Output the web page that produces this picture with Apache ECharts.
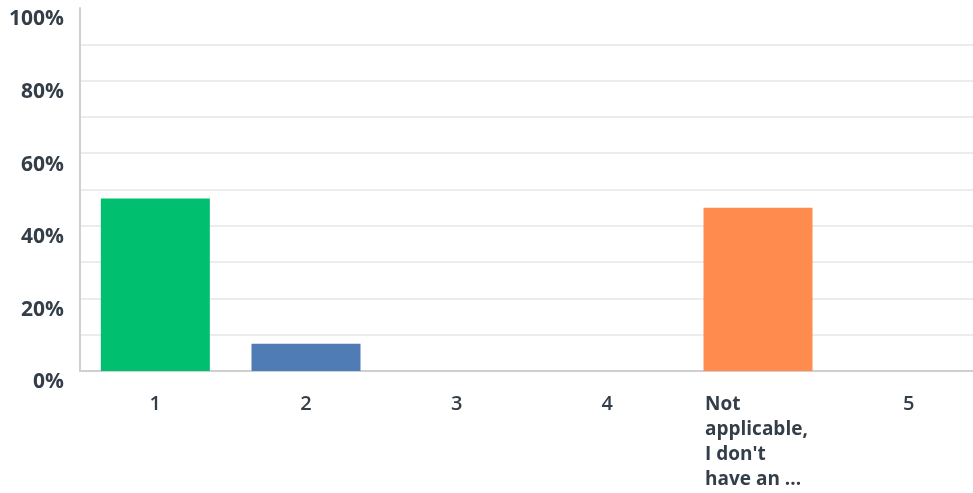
<!DOCTYPE html>
<html><head><meta charset="utf-8">
<script src="https://cdn.jsdelivr.net/npm/echarts@6/dist/echarts.min.js"></script>
<style>html,body{margin:0;padding:0;background:#fff;overflow:hidden}#c{width:984px;height:493px}</style>
</head><body><div id="c"></div>
<script>
const categories = ['1', '2', '3', '4', "Not applicable, I don't have an ...", '5'];
const values = [47.5, 7.5, 0, 0, 45, 0];
const barColors = ['#00BF6F', '#507CB6', '#6BC8CD', '#F9BE00', '#FF8B4F', '#7D5BA6'];
const yTicks = [0, 20, 40, 60, 80, 100];

const chart = echarts.init(document.getElementById('c'));
const txt = '#333e48';
const font = '"Open Sans", "Noto Sans", sans-serif';
const gridColors = [];
for (let i = 0; i < 10; i++) gridColors.push('#ececec');
gridColors.push('rgba(0,0,0,0)');

chart.setOption({
  animation: false,
  grid: { left: 80, right: 0, top: 8, bottom: 122, containLabel: false },
  xAxis: {
    type: 'category',
    data: categories,
    axisLine: { show: true, lineStyle: { color: '#cfcfcf', width: 2 } },
    axisTick: { show: false },
    axisLabel: {
      interval: 0,
      margin: 21,
      color: txt,
      fontFamily: font,
      fontSize: 20,
      fontWeight: 600,
      lineHeight: 25,
      formatter: function (v) {
        if (v.length > 3) {
          return '{w|Not\napplicable,\nI don\'t\nhave an ...}';
        }
        return v;
      },
      rich: {
        w: { width: 106, align: 'left', color: txt, fontFamily: font, fontSize: 19, fontWeight: 'bold', lineHeight: 25 }
      }
    }
  },
  yAxis: {
    type: 'value',
    min: 0, max: 100, interval: 10,
    axisLine: { show: true, lineStyle: { color: '#cfcfcf', width: 2 } },
    axisTick: { show: false },
    splitLine: { show: true, lineStyle: { color: gridColors, width: 2 } },
    axisLabel: {
      margin: 16,
      color: txt,
      fontFamily: font,
      fontSize: 21,
      fontWeight: 'bold',
      verticalAlign: 'top',
      padding: [1, 0, 0, 0],
      formatter: function (v) { return yTicks.indexOf(v) >= 0 ? v + '%' : ''; }
    }
  },
  series: [{
    type: 'bar',
    data: values.map((v, i) => ({ value: v, itemStyle: { color: barColors[i] } })),
    barWidth: 109
  }]
});
</script></body></html>
